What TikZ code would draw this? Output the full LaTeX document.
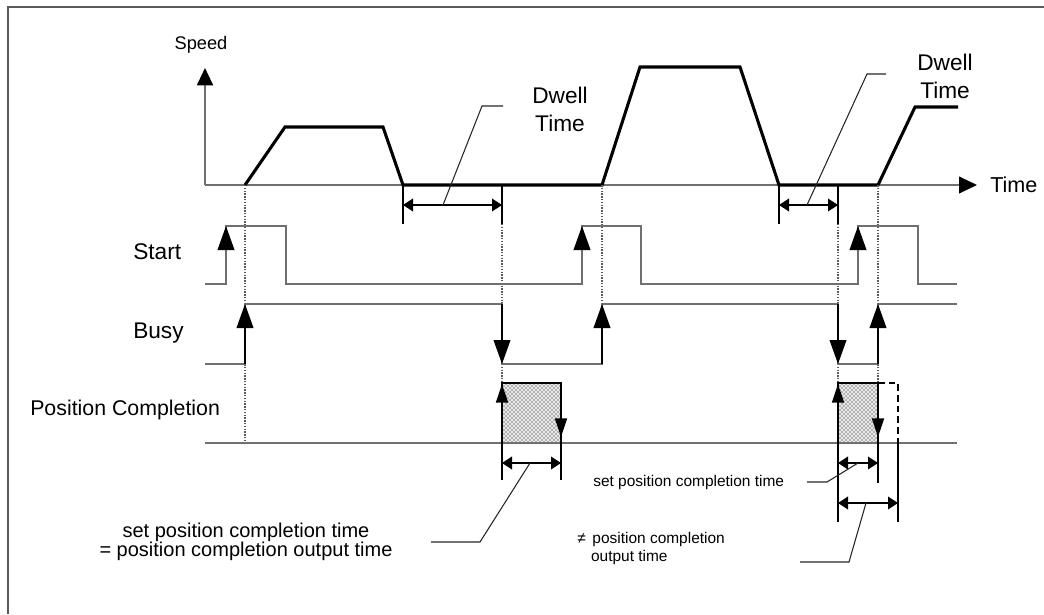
\documentclass[tikz,border=0pt]{standalone}
\usepackage{fontspec}
\setmainfont{Liberation Sans}
\usetikzlibrary{arrows.meta,patterns}
\definecolor{sigline}{RGB}{112,112,112}
\definecolor{frameline}{RGB}{90,90,90}

\begin{document}
\begin{tikzpicture}[
  x=0.75pt, y=-0.75pt,
  lbl/.style={inner sep=0pt, font=\fontsize{17pt}{21pt}\selectfont},
  note/.style={inner sep=0pt, align=left, font=\fontsize{11.6pt}{13.5pt}\selectfont},
  axis/.style={draw=sigline, line width=1.5pt},
  profile/.style={draw=black, line width=2.3pt, line join=miter},
  signal/.style={draw=sigline, line width=1.5pt},
  edgearr/.style={draw=black, line width=1.3pt, -{Triangle[length=18pt, width=12.5pt, color=black]}},
  pcarr/.style={draw=black, line width=1.3pt, -{Triangle[length=14pt, width=9pt]}},
  guide/.style={draw=black!65, line width=1.1pt, densely dotted},
  tick/.style={draw=black, line width=1.1pt},
  span/.style={draw=black, line width=1.1pt, {Triangle[length=7.5pt, width=9.5pt]}-{Triangle[length=7.5pt, width=9.5pt]}},
  leader/.style={draw=black!85, line width=0.8pt},
  pcbox/.style={pattern=crosshatch dots, pattern color=black},
]
\useasboundingbox (0,0) rectangle (1044,614);
% frame
\draw[draw=frameline, line width=1.6pt] (8,614) -- (8,7) -- (1044,7);

% speed / time axes
\draw[axis, -{Triangle[length=13pt, width=12pt, color=black]}] (205,185) -- (205,68);
\draw[axis, -{Triangle[length=13.5pt, width=12.5pt, color=black]}] (205,185) -- (977,185);
\node[lbl, font=\fontsize{13.7pt}{16pt}\selectfont] (speed) at (201,45) {Speed};
\node[lbl, anchor=west, font=\fontsize{16.2pt}{20pt}\selectfont] (time) at (990,185) {Time};

% speed profile
\draw[profile] (245,185) -- (285,127) -- (383,127) -- (403,185) -- (602,185)
  -- (640,67) -- (740,67) -- (779,185) -- (878,185) -- (915,107) -- (958,107);

% dwell times
\draw[tick] (403,185) -- (403,224);
\draw[tick] (502,185) -- (502,224);
\draw[span] (403,205) -- (502,205);
\draw[leader] (443,205) -- (482,106) -- (503,106);
\node[lbl, align=center] (dwella) at (560,109) {Dwell\\Time};
\draw[tick] (779,185) -- (779,224);
\draw[tick] (838,185) -- (838,224);
\draw[span] (779,205) -- (838,205);
\draw[leader] (807,205) -- (867,74) -- (886,74);
\node[lbl, align=center] (dwellb) at (945,76) {Dwell\\Time};

% signal names
\node[lbl, anchor=west] (start) at (133,252) {Start};
\node[lbl, anchor=west] (busy) at (133,333) {Busy};
\node[lbl, anchor=west, font=\fontsize{16pt}{20pt}\selectfont] (pcomp) at (30,410) {Position Completion};

% position completion pulses
\fill[gray!18] (502,383) rectangle (561,443);
\fill[pcbox] (502,383) rectangle (561,443);
\fill[gray!18] (838,383) rectangle (878,443);
\fill[pcbox] (838,383) rectangle (878,443);

% guides
\draw[guide] (245,185) -- (245,443);
\draw[guide] (502,224) -- (502,383);
\draw[guide] (602,185) -- (602,304);
\draw[guide] (838,224) -- (838,383);
\draw[guide] (878,185) -- (878,383);

% start signal
\draw[signal] (205,284) -- (226,284) -- (226,226) -- (286,226) -- (286,284) -- (582,284)
  -- (582,226) -- (641,226) -- (641,284) -- (858,284) -- (858,226) -- (918,226)
  -- (918,284) -- (957,284);
\draw[edgearr, draw=sigline] (226,284) -- (226,226);
\draw[edgearr, draw=sigline] (582,284) -- (582,226);
\draw[edgearr, draw=sigline] (858,284) -- (858,226);

% busy signal
\draw[signal] (205,364) -- (245,364) -- (245,304) -- (502,304) -- (502,364) -- (602,364)
  -- (602,304) -- (838,304) -- (838,364) -- (878,364) -- (878,304) -- (957,304);
\draw[edgearr] (245,364) -- (245,304);
\draw[edgearr] (502,304) -- (502,364);
\draw[edgearr] (602,364) -- (602,304);
\draw[edgearr] (838,304) -- (838,364);
\draw[edgearr] (878,364) -- (878,304);

% position completion signal
\draw[signal] (205,443) -- (957,443);
\draw[draw=black, line width=1.5pt] (502,443) -- (502,383) -- (561,383) -- (561,443);
\draw[pcarr] (502,443) -- (502,384);
\draw[pcarr] (561,383) -- (561,437);
\draw[draw=black, line width=1.5pt] (838,443) -- (838,383) -- (878,383) -- (878,443);
\draw[pcarr] (838,443) -- (838,384);
\draw[pcarr] (878,383) -- (878,437);
\draw[draw=black, line width=1.3pt, dash pattern=on 5pt off 3pt] (878,383) -- (898,383) -- (898,443);

% completion times
\draw[tick] (502,443) -- (502,480);
\draw[tick] (561,443) -- (561,480);
\draw[span] (502,463) -- (561,463);
\draw[leader] (530,463) -- (480,542) -- (431,542);
\node[inner sep=0pt, align=center, font=\fontsize{15pt}{14.3pt}\selectfont] (sameline) at (246,542)
  {set position completion time\\= position completion output time};

\draw[tick] (838,443) -- (838,522);
\draw[tick] (878,443) -- (878,483);
\draw[tick] (898,443) -- (898,522);
\draw[span] (838,463) -- (878,463);
\draw[span] (838,503) -- (898,503);
\draw[leader] (858,463) -- (827,482) -- (807,482);
\draw[leader] (866,503) -- (849,562) -- (800,562);
\node[note, anchor=west] (setline) at (593,482) {set position completion time};
\node[note, anchor=west] (outline) at (577,548) {≠\hspace{5pt}position completion\\\phantom{≠}\hspace{4pt}output time};
\end{tikzpicture}
\end{document}
